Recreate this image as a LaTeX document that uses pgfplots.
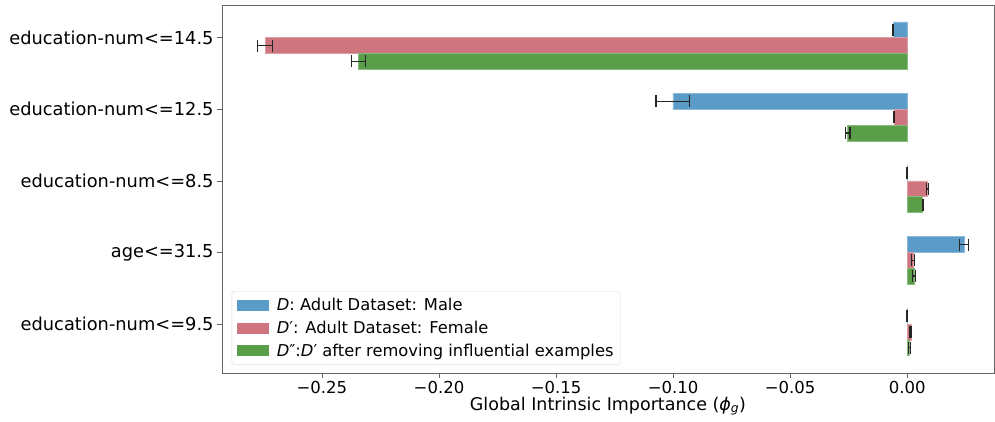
\documentclass[border=0pt]{standalone}
\usepackage{fontspec}
\setmainfont{DejaVu Sans}
\usepackage{pgfplots}
\pgfplotsset{compat=1.18}
\definecolor{cblue}{RGB}{90,155,200}
\definecolor{cpink}{RGB}{206,117,128}
\definecolor{cgreen}{RGB}{90,158,74}
\definecolor{axgray}{RGB}{100,100,100}
\begin{document}
\begin{tikzpicture}
\begin{axis}[
  scale only axis,
  width=772pt, height=368pt,
  xbar,
  y dir=reverse,
  xmin=-0.2927, xmax=0.0371,
  ymin=-0.457, ymax=4.683,
  ytick={0,1,2,3,4},
  yticklabels={education-num<=14.5,education-num<=12.5,education-num<=8.5,age<=31.5,education-num<=9.5},
  xtick={-0.25,-0.2,-0.15,-0.1,-0.05,0},
  xticklabels={−0.25,−0.20,−0.15,−0.10,−0.05,0.00},
  xtick pos=lower, ytick pos=left,
  tick align=outside,
  major tick length=5pt,
  tick style={axgray, line width=0.8pt},
  axis line style={axgray, line width=0.9pt},
  y tick label style={font=\fontsize{17.8}{20}\selectfont},
  x tick label style={font=\fontsize{16.5}{19}\selectfont},
  xlabel={Global Intrinsic Importance (\textit{ϕ}\textsubscript{\textit{g}})},
  xlabel style={font=\fontsize{17.5}{20}\selectfont, yshift=4pt},
  bar width=0.22,
  legend cell align=left,
  legend style={at={(0.0125,0.0215)}, anchor=south west,
    draw=black!15, rounded corners=3pt, fill=white,
    font=\fontsize{16.3}{19}\selectfont,
    row sep=5pt, inner xsep=5pt, inner ysep=5pt},
  legend image code/.code={\fill[#1, sharp corners, draw=none] (0pt,-5.5pt) rectangle (32pt,5.5pt); \path[draw=none, fill=none] (0pt,0pt) -- (38pt,0pt);},
  error bars/error mark=|,
  error bars/error bar style={black!85, line width=1.5pt},
  error bars/error mark options={black!85, line width=1.2pt, mark size=6pt},
]
\addplot[fill=cblue, draw=cblue!70!white, line width=0.6pt, bar shift=-0.11,
  error bars/.cd, x dir=both, x explicit]
  coordinates {(-0.006,0) +- (0.0003,0) (-0.1001,1) +- (0.0072,0) (0.0,2) +- (0.0002,0) (0.0243,3) +- (0.0018,0) (0.0,4) +- (0.0002,0)};
\addlegendentry{\textit{D}: Adult Dataset: Male}
\addplot[fill=cpink, draw=cpink!70!white, line width=0.6pt, bar shift=0.11,
  error bars/.cd, x dir=both, x explicit]
  coordinates {(-0.2743,0) +- (0.0033,0) (-0.0057,1) +- (0.0003,0) (0.0087,2) +- (0.0003,0) (0.0026,3) +- (0.0007,0) (0.0016,4) +- (0.0004,0)};
\addlegendentry{\textit{D}′: Adult Dataset: Female}
\addplot[fill=cgreen, draw=cgreen!70!white, line width=0.6pt, bar shift=0.33,
  error bars/.cd, x dir=both, x explicit]
  coordinates {(-0.2344,0) +- (0.003,0) (-0.0254,1) +- (0.001,0) (0.0066,2) +- (0.0002,0) (0.003,3) +- (0.0007,0) (0.001,4) +- (0.0003,0)};
\addlegendentry{\textit{D}″:\textit{D}′ after removing influential examples}
\end{axis}
\path ([shift={(-222pt,-48pt)}]current axis.south west) rectangle ([shift={(1pt,5pt)}]current axis.north east);
\end{tikzpicture}
\end{document}
